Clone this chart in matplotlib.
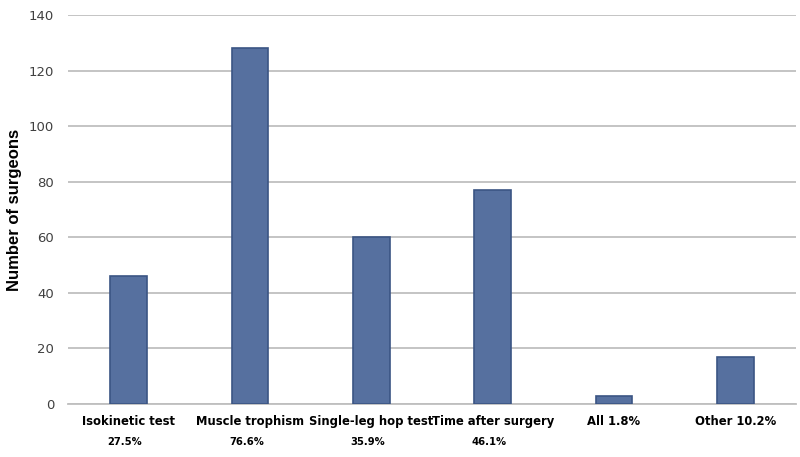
import matplotlib.pyplot as plt
import matplotlib.transforms as mtransforms

# data
categories = ['Isokinetic test', 'Muscle trophism', 'Single-leg hop test',
              'Time after surgery', 'All 1.8%', 'Other 10.2%']
percents = ['27.5%', '76.6%', '35.9%', '46.1%', '', '']
surgeons = [46, 128, 60, 77, 3, 17]

fig = plt.figure(figsize=(8, 4.57), dpi=100)
ax = fig.add_axes([0.085, 0.116, 0.91, 0.851])

x = list(range(len(categories)))
ax.bar(x, surgeons, width=0.3, color='#56709F', edgecolor='#3B5584',
       linewidth=1.2, zorder=3)

ax.set_xlim(-0.5, 5.5)
ax.set_ylim(0, 140)
ax.set_yticks(range(0, 141, 20))
ax.yaxis.grid(True, color='#BFBFBF', linewidth=1.3, zorder=0)
ax.tick_params(axis='y', length=0, pad=10, labelsize=9.5, labelcolor='#404040')
ax.tick_params(axis='x', length=0, pad=8)
for s in ['top', 'right', 'left']:
    ax.spines[s].set_visible(False)
ax.spines['bottom'].set_color('#BFBFBF')
ax.spines['bottom'].set_linewidth(1.3)

ax.set_xticks(x)
ax.set_xticklabels(categories, family='DejaVu Sans', fontstretch='condensed',
                   fontweight='bold', fontsize=9.3)

trans = mtransforms.blended_transform_factory(ax.transData, ax.transAxes)
for xi, p in zip(x, percents):
    if p:
        ax.text(xi - 0.03, -0.085, p, transform=trans, ha='center', va='top',
                family='DejaVu Sans', fontstretch='condensed',
                fontweight='bold', fontsize=8)

fig.text(15 / 800, 0.54, 'Number of surgeons', rotation=90, ha='center',
         va='center', fontsize=12, fontweight='bold',
         family=['Liberation Sans', 'DejaVu Sans'])

fig.savefig('out.png', dpi=100)
